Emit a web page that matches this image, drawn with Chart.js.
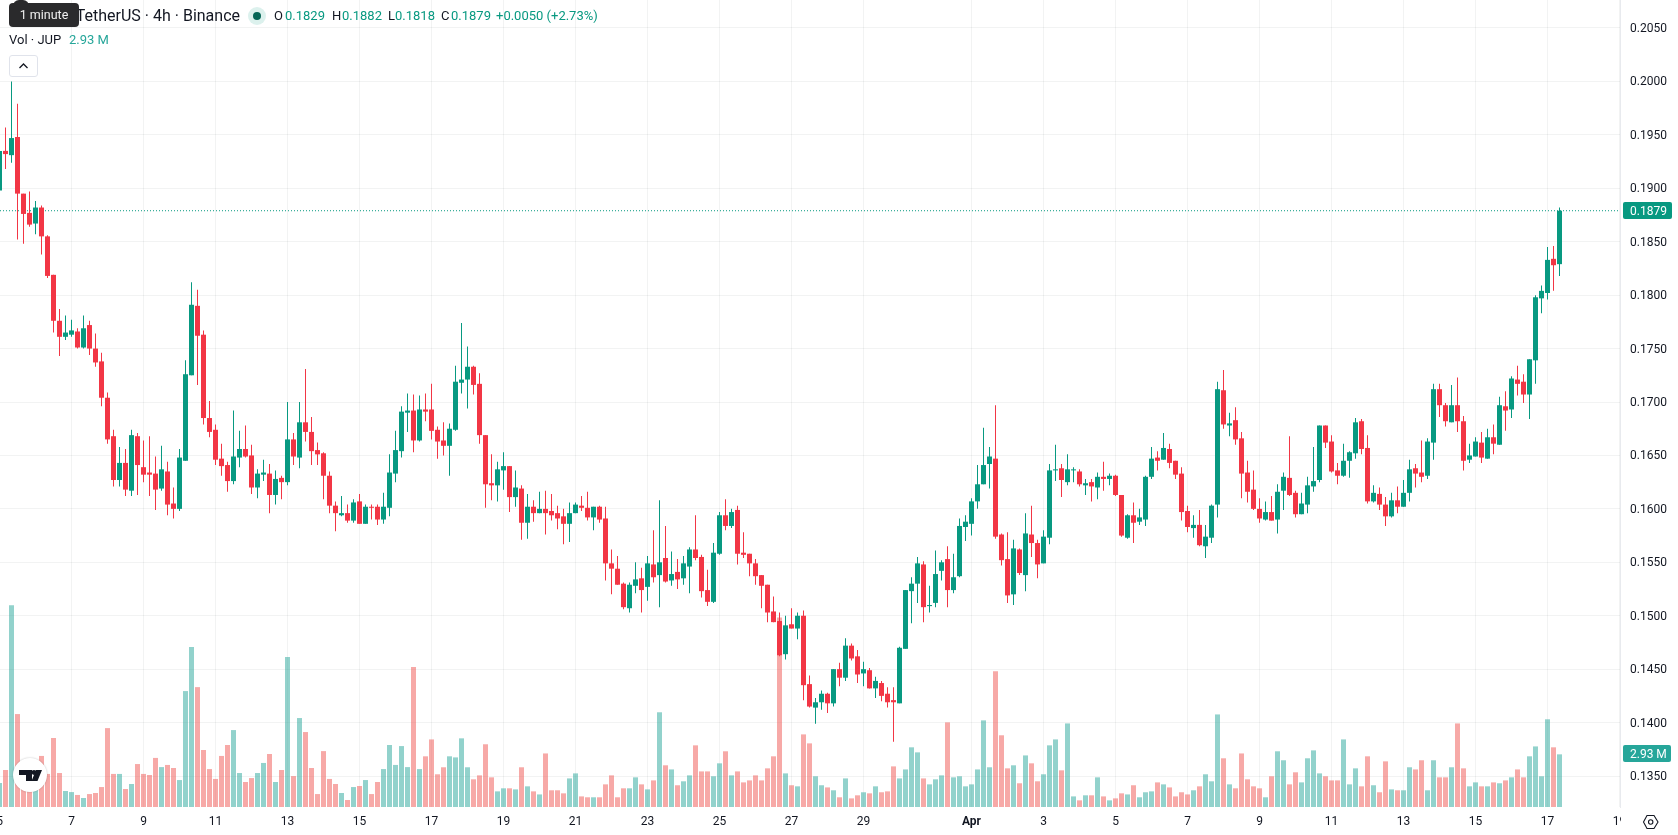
<!DOCTYPE html>
<html>
<head>
<meta charset="utf-8">
<title>JUP / USDT 4h</title>
<script src="https://cdn.jsdelivr.net/npm/chart.js@4/dist/chart.umd.min.js"></script>
<style>
  html, body { margin: 0; padding: 0; background: #fff; overflow: hidden; }
  body { width: 1678px; height: 835px; position: relative; font-family: Roboto, sans-serif; color: #131722; }
  canvas { position: absolute; left: 0; top: 0; }
  .txt { position: absolute; white-space: nowrap; line-height: 16px; font-size: 13px; }
  .up { color: #089981; }
  .vol { color: #26a69a; }
  #title { right: calc(1678px - 240px); top: 7px; font-size: 16px; line-height: 18px; }
  #status { position: absolute; left: 248px; top: 7px; width: 18px; height: 18px; border-radius: 50%; background: rgba(8,153,129,.14); }
  #status i { position: absolute; left: 5px; top: 5px; width: 8px; height: 8px; border-radius: 50%; background: #056656; }
  #tip { position: absolute; left: 9px; top: 3px; width: 70px; height: 24px; background: #2a2a2c; border-radius: 4px; color: #f0f0f0; font-size: 12.5px; line-height: 24px; text-align: center; }
  #tip:before { content: ""; position: absolute; left: 4px; top: -3px; width: 16px; height: 6px; border-radius: 6px 6px 0 0; background: #2a2a2c; }
  #fold { position: absolute; left: 9px; top: 55px; width: 27px; height: 20px; border: 1px solid #e0e3eb; border-radius: 3px; background: #fff; }
  #logo { position: absolute; left: 13px; top: 758px; width: 34px; height: 34px; border-radius: 50%; background: #fff; box-shadow: 0 0 2px rgba(0,0,0,.25); }
  #gear { position: absolute; left: 1642px; top: 813px; }
</style>
</head>
<body>
<canvas id="chart" width="1678" height="835"></canvas>

<div class="txt" id="title">TetherUS · 4h · Binance</div>
<div id="status"><i></i></div>
<div class="txt" style="left:274px;top:8px">O</div><div class="txt up" style="left:285px;top:8px">0.1829</div>
<div class="txt" style="left:332px;top:8px">H</div><div class="txt up" style="left:342px;top:8px">0.1882</div>
<div class="txt" style="left:388px;top:8px">L</div><div class="txt up" style="left:395px;top:8px">0.1818</div>
<div class="txt" style="left:441px;top:8px">C</div><div class="txt up" style="left:451px;top:8px">0.1879</div>
<div class="txt up" style="left:496px;top:8px">+0.0050 (+2.73%)</div>
<div class="txt" style="left:9px;top:32px">Vol · JUP</div>
<div class="txt vol" style="left:69px;top:32px">2.93 M</div>
<div id="tip">1 minute</div>
<div id="fold">
  <svg width="27" height="20"><path d="M9.5 12 L13.5 8 L17.5 12" fill="none" stroke="#131722" stroke-width="1.3"/></svg>
</div>
<div id="logo">
  <svg width="34" height="34" style="position:absolute;left:0;top:0">
    <path d="M6 12 H19 V23 H13 V17 H6 Z M29 12 L24.5 23 H18.5 L23 12 Z" fill="#131722"/>
    <circle cx="21" cy="14.5" r="2.4" fill="#131722"/>
  </svg>
</div>
<svg id="gear" width="18" height="18">
  <path d="M5 2.5 H12 L16 9 L12 15.5 H5 L1.5 9 Z" fill="none" stroke="#131722" stroke-width="1.1"/>
  <circle cx="8.7" cy="9" r="2.2" fill="none" stroke="#131722" stroke-width="1.1"/>
</svg>

<script>
// 4h candles, oldest first
const opens = [
  .1898,.1935,.1931,.1948,.1895,.1877,.1867,.1882,.1855,.1819,
  .1776,.1761,.1763,.1766,.1751,.1772,.1750,.1738,.1704,.1668,
  .1627,.1643,.1617,.1668,.1639,.1634,.1633,.1619,.1635,.1605,
  .1600,.1645,.1725,.1790,.1763,.1685,.1674,.1647,.1641,.1626,
  .1648,.1656,.1650,.1620,.1632,.1633,.1613,.1629,.1625,.1665,
  .1648,.1681,.1672,.1655,.1652,.1631,.1603,.1594,.1596,.1589,
  .1607,.1586,.1602,.1602,.1590,.1601,.1633,.1654,.1690,.1692,
  .1664,.1693,.1693,.1674,.1664,.1659,.1674,.1718,.1721,.1733,
  .1717,.1669,.1624,.1622,.1636,.1640,.1611,.1619,.1587,.1602,
  .1596,.1600,.1598,.1596,.1593,.1586,.1596,.1603,.1601,.1592,
  .1602,.1591,.1549,.1544,.1530,.1507,.1528,.1535,.1527,.1548,
  .1538,.1554,.1533,.1541,.1535,.1546,.1562,.1555,.1524,.1513,
  .1558,.1594,.1584,.1599,.1559,.1558,.1549,.1538,.1529,.1504,
  .1495,.1464,.1492,.1488,.1500,.1436,.1414,.1419,.1427,.1418,
  .1450,.1442,.1472,.1462,.1446,.1449,.1432,.1437,.1427,.1421,
  .1418,.1469,.1523,.1530,.1548,.1509,.1512,.1542,.1553,.1524,
  .1537,.1583,.1586,.1607,.1623,.1642,.1647,.1576,.1553,.1520,
  .1562,.1538,.1576,.1568,.1549,.1573,.1636,.1638,.1625,.1636,
  .1635,.1622,.1625,.1620,.1630,.1628,.1631,.1613,.1573,.1594,
  .1588,.1590,.1630,.1648,.1646,.1656,.1645,.1633,.1598,.1582,
  .1585,.1565,.1573,.1604,.1711,.1678,.1683,.1666,.1634,.1618,
  .1600,.1590,.1597,.1590,.1617,.1629,.1615,.1595,.1604,.1621,
  .1627,.1678,.1663,.1636,.1631,.1645,.1652,.1682,.1657,.1607,
  .1614,.1604,.1593,.1608,.1602,.1615,.1638,.1634,.1631,.1662,
  .1712,.1697,.1681,.1697,.1682,.1646,.1649,.1662,.1647,.1667,
  .1660,.1696,.1693,.1721,.1719,.1707,.1739,.1797,.1802,.1834,.1829
];
const highs = [
  .1940,.1957,.2000,.1979,.1895,.1897,.1888,.1884,.1856,.1819,
  .1787,.1781,.1777,.1769,.1781,.1776,.1764,.1746,.1709,.1674,
  .1658,.1656,.1674,.1671,.1664,.1668,.1649,.1659,.1644,.1620,
  .1656,.1739,.1812,.1805,.1767,.1701,.1679,.1661,.1644,.1692,
  .1673,.1678,.1660,.1637,.1646,.1642,.1636,.1631,.1700,.1671,
  .1700,.1731,.1686,.1662,.1653,.1635,.1607,.1612,.1604,.1609,
  .1614,.1604,.1604,.1604,.1615,.1651,.1673,.1696,.1708,.1707,
  .1706,.1708,.1717,.1677,.1681,.1680,.1734,.1774,.1752,.1734,
  .1727,.1669,.1651,.1644,.1653,.1640,.1636,.1622,.1614,.1608,
  .1616,.1617,.1614,.1603,.1600,.1606,.1606,.1612,.1616,.1602,
  .1603,.1602,.1562,.1556,.1531,.1531,.1550,.1545,.1556,.1580,
  .1608,.1584,.1560,.1553,.1556,.1564,.1594,.1557,.1543,.1568,
  .1597,.1609,.1600,.1603,.1578,.1558,.1553,.1538,.1529,.1518,
  .1503,.1500,.1507,.1503,.1505,.1444,.1423,.1430,.1428,.1450,
  .1456,.1479,.1474,.1468,.1457,.1451,.1443,.1439,.1433,.1433,
  .1471,.1524,.1536,.1555,.1551,.1528,.1561,.1552,.1565,.1558,
  .1591,.1594,.1610,.1641,.1676,.1658,.1697,.1577,.1578,.1571,
  .1563,.1596,.1603,.1571,.1580,.1642,.1660,.1642,.1651,.1639,
  .1637,.1628,.1628,.1634,.1644,.1633,.1632,.1613,.1595,.1606,
  .1600,.1631,.1658,.1654,.1671,.1661,.1645,.1639,.1603,.1594,
  .1599,.1585,.1604,.1719,.1730,.1690,.1695,.1672,.1645,.1636,
  .1610,.1607,.1612,.1623,.1634,.1668,.1617,.1615,.1630,.1658,
  .1678,.1678,.1669,.1643,.1661,.1654,.1685,.1684,.1669,.1622,
  .1620,.1611,.1615,.1621,.1627,.1646,.1642,.1664,.1666,.1717,
  .1717,.1699,.1716,.1723,.1687,.1661,.1667,.1672,.1675,.1679,
  .1705,.1710,.1724,.1734,.1726,.1740,.1800,.1809,.1845,.1846,.1882
];
const lows = [
  .1890,.1918,.1924,.1852,.1848,.1864,.1857,.1838,.1816,.1765,
  .1743,.1758,.1761,.1750,.1750,.1744,.1733,.1696,.1661,.1621,
  .1621,.1612,.1612,.1613,.1625,.1612,.1599,.1617,.1594,.1591,
  .1598,.1645,.1725,.1716,.1679,.1667,.1641,.1631,.1616,.1623,
  .1639,.1648,.1614,.1610,.1626,.1596,.1604,.1609,.1622,.1641,
  .1638,.1663,.1641,.1641,.1609,.1596,.1579,.1593,.1587,.1587,
  .1586,.1586,.1590,.1585,.1586,.1593,.1625,.1648,.1672,.1653,
  .1663,.1682,.1665,.1647,.1650,.1631,.1673,.1708,.1694,.1707,
  .1661,.1601,.1608,.1607,.1618,.1597,.1602,.1571,.1572,.1588,
  .1596,.1576,.1589,.1581,.1567,.1569,.1596,.1598,.1589,.1580,
  .1587,.1533,.1520,.1529,.1506,.1503,.1521,.1503,.1514,.1531,
  .1508,.1531,.1528,.1525,.1529,.1521,.1552,.1517,.1509,.1512,
  .1557,.1580,.1582,.1548,.1554,.1537,.1529,.1507,.1494,.1494,
  .1462,.1459,.1488,.1478,.1421,.1414,.1399,.1412,.1409,.1415,
  .1434,.1439,.1458,.1437,.1434,.1432,.1423,.1420,.1414,.1382,
  .1418,.1469,.1493,.1512,.1494,.1503,.1508,.1533,.1508,.1521,
  .1536,.1570,.1575,.1600,.1623,.1619,.1572,.1547,.1512,.1510,
  .1538,.1523,.1555,.1535,.1549,.1567,.1626,.1611,.1622,.1625,
  .1621,.1613,.1607,.1609,.1617,.1622,.1612,.1574,.1572,.1568,
  .1585,.1584,.1628,.1636,.1646,.1638,.1628,.1589,.1578,.1573,
  .1565,.1554,.1568,.1592,.1675,.1668,.1660,.1610,.1606,.1599,
  .1587,.1589,.1589,.1577,.1599,.1612,.1592,.1595,.1596,.1616,
  .1625,.1657,.1634,.1623,.1630,.1629,.1647,.1651,.1605,.1606,
  .1599,.1584,.1592,.1596,.1602,.1607,.1620,.1625,.1628,.1646,
  .1686,.1677,.1681,.1672,.1636,.1643,.1649,.1643,.1647,.1651,
  .1660,.1673,.1685,.1706,.1699,.1684,.1717,.1783,.1796,.1804,.1818
];
const closes = [
  .1935,.1932,.1947,.1895,.1876,.1866,.1882,.1855,.1818,.1776,
  .1761,.1765,.1767,.1751,.1769,.1750,.1737,.1704,.1665,.1627,
  .1643,.1618,.1669,.1641,.1632,.1632,.1618,.1637,.1604,.1600,
  .1648,.1726,.1791,.1762,.1685,.1672,.1646,.1640,.1626,.1649,
  .1656,.1649,.1620,.1633,.1634,.1613,.1628,.1625,.1665,.1649,
  .1681,.1672,.1654,.1651,.1631,.1603,.1596,.1596,.1589,.1606,
  .1586,.1602,.1601,.1590,.1602,.1634,.1655,.1691,.1692,.1664,
  .1693,.1691,.1673,.1663,.1659,.1675,.1719,.1721,.1733,.1716,
  .1669,.1623,.1622,.1637,.1640,.1611,.1620,.1587,.1602,.1596,
  .1600,.1596,.1594,.1591,.1586,.1596,.1604,.1601,.1592,.1602,
  .1590,.1549,.1544,.1529,.1508,.1529,.1534,.1524,.1549,.1536,
  .1550,.1532,.1539,.1534,.1549,.1562,.1554,.1523,.1513,.1559,
  .1594,.1584,.1597,.1558,.1557,.1549,.1537,.1528,.1503,.1494,
  .1463,.1491,.1488,.1500,.1435,.1415,.1419,.1427,.1418,.1450,
  .1442,.1472,.1460,.1445,.1450,.1432,.1439,.1425,.1419,.1419,
  .1470,.1524,.1530,.1549,.1508,.1510,.1539,.1550,.1524,.1536,
  .1584,.1588,.1607,.1623,.1641,.1649,.1574,.1552,.1519,.1563,
  .1540,.1577,.1568,.1548,.1574,.1636,.1637,.1627,.1637,.1637,
  .1623,.1624,.1621,.1630,.1628,.1631,.1613,.1575,.1594,.1587,
  .1592,.1630,.1647,.1645,.1657,.1643,.1632,.1597,.1583,.1585,
  .1566,.1574,.1603,.1712,.1679,.1680,.1665,.1633,.1616,.1600,
  .1591,.1597,.1589,.1616,.1630,.1613,.1595,.1605,.1622,.1626,
  .1678,.1662,.1635,.1631,.1645,.1653,.1681,.1656,.1607,.1615,
  .1604,.1593,.1608,.1602,.1615,.1637,.1633,.1630,.1663,.1712,
  .1697,.1682,.1697,.1682,.1645,.1650,.1663,.1648,.1667,.1661,
  .1697,.1692,.1722,.1717,.1707,.1740,.1798,.1804,.1833,.1828,.1879
];
// volume per candle, millions of JUP
const volumes = [
  1.33,2.06,11.23,5.17,1.69,1.50,1.13,2.84,1.84,3.84,
  1.89,0.89,0.83,0.67,0.50,0.72,0.78,1.11,4.39,1.84,
  1.84,1.00,1.28,2.39,1.84,1.78,2.73,2.22,2.34,2.17,
  1.50,6.45,8.90,6.67,3.17,2.11,1.56,2.84,3.45,4.28,
  1.89,1.39,1.61,1.89,2.45,2.95,1.39,2.06,8.34,1.72,
  4.95,4.17,2.17,0.72,3.11,1.56,1.28,0.78,0.39,1.11,
  1.17,1.50,0.72,1.39,2.11,3.45,2.34,3.39,2.22,7.79,2.11,
  2.82,3.76,1.82,2.21,2.82,2.76,3.82,2.21,1.54,1.76,
  3.49,1.65,0.87,1.04,1.04,0.98,2.21,1.15,0.87,0.70,
  2.98,0.93,0.93,0.76,1.59,1.87,0.59,0.54,0.54,0.54,
  1.26,1.76,0.54,1.04,1.04,1.65,1.26,0.98,1.48,5.27,
  2.32,2.09,1.21,1.43,1.76,3.43,1.98,1.98,1.71,2.43,
  3.10,1.76,1.98,1.37,1.48,1.76,1.48,2.15,2.82,10.55,
  1.87,1.21,1.15,4.04,3.54,1.71,1.21,1.09,0.93,0.54,
  1.59,0.48,0.65,0.82,0.76,1.15,0.82,0.87,2.26,1.59,
  2.09,3.32,3.04,1.59,1.26,1.54,1.76,4.71,1.65,1.71,
  1.15,1.26,2.09,4.82,2.21,7.55,3.99,2.15,2.32,1.32,
  2.87,2.43,1.43,1.82,3.43,3.76,2.04,4.65,0.59,0.37,
  0.65,0.65,1.65,0.59,0.37,0.48,0.76,0.70,1.21,0.54,
  0.82,0.87,1.37,1.26,1.09,0.59,0.82,0.70,0.93,1.15,
  1.82,1.43,5.15,2.71,1.26,1.04,2.98,1.54,1.15,1.04,
  0.54,1.71,3.10,2.60,1.26,1.93,1.37,2.71,3.15,1.87,
  1.71,1.48,1.48,3.76,1.26,2.15,1.15,2.82,1.21,0.82,
  2.54,0.98,0.93,0.93,2.21,2.09,2.60,0.93,2.60,1.65,
  1.65,2.21,4.65,2.15,1.15,1.37,1.15,1.15,1.37,1.32,
  1.48,1.65,2.09,1.65,2.82,3.37,1.71,4.88,3.32,2.93
];

// axis ticks: candle index -> date label
const dateTicks = [0,12,24,36,48,60,72,84,96,108,120,132,144,162,174,186,198,210,222,234,246,258,270];
const dateLabels = ['5','7','9','11','13','15','17','19','21','23','25','27','29','Apr','3','5','7','9','11','13','15','17','19'];
const priceTicks = [0.135,0.14,0.145,0.15,0.155,0.16,0.165,0.17,0.175,0.18,0.185,0.19,0.195,0.2,0.205];

const UP = '#089981', DOWN = '#f23645';
const VOL_UP = 'rgba(38,166,154,.5)', VOL_DOWN = 'rgba(239,83,80,.5)';
const GRID = 'rgba(42,46,57,.06)';
const FONT = 'Roboto, sans-serif';

const last = closes.length - 1;
const candleColor = closes.map((c, i) => c >= opens[i] ? UP : DOWN);
const volColor = closes.map((c, i) => c >= opens[i] ? VOL_UP : VOL_DOWN);

// 6px per candle in a 1620px wide pane
const xMin = 1 / 12, xMax = xMin + 270;

const lastValueTags = {
  id: 'lastValueTags',
  afterDraw(chart) {
    const { ctx, scales } = chart;
    // the time axis stops at the price axis
    ctx.save();
    ctx.fillStyle = '#fff';
    ctx.fillRect(1621, 808, 20, 27);
    ctx.font = '12px ' + FONT;
    ctx.textBaseline = 'middle';
    const tag = (y, color, text, w) => {
      ctx.fillStyle = color;
      ctx.beginPath();
      ctx.roundRect(1623, Math.round(y) - 9, w, 17, 2);
      ctx.fill();
      ctx.fillStyle = '#fff';
      ctx.fillText(text, 1630, Math.round(y) + 1);
    };
    tag(scales.yVol.getPixelForValue(volumes[last]), '#26a69a', volumes[last].toFixed(2) + ' M', 48);
    tag(scales.y.getPixelForValue(closes[last]), UP, closes[last].toFixed(4), 49);
    ctx.restore();
  }
};

new Chart(document.getElementById('chart'), {
  type: 'bar',
  data: {
    datasets: [
      {
        label: 'body',
        data: opens.map((o, i) => ({ x: i, y: [o, closes[i]] })),
        backgroundColor: candleColor,
        barThickness: 5,
        inflateAmount: 0,
        order: 1
      },
      {
        label: 'wick',
        data: lows.map((l, i) => ({ x: i, y: [l, highs[i]] })),
        backgroundColor: candleColor,
        barThickness: 1,
        inflateAmount: 0,
        order: 2
      },
      {
        label: 'last',
        type: 'line',
        data: [{ x: xMin, y: closes[last] }, { x: xMax, y: closes[last] }],
        borderColor: UP,
        borderWidth: 1,
        borderDash: [1, 2],
        pointRadius: 0,
        order: 3
      },
      {
        label: 'volume',
        data: volumes.map((v, i) => ({ x: i, y: v })),
        backgroundColor: volColor,
        barThickness: 5,
        inflateAmount: 0,
        yAxisID: 'yVol',
        order: 4
      }
    ]
  },
  options: {
    responsive: false,
    animation: false,
    grouped: false,
    minBarLength: 1,
    layout: { padding: 0 },
    plugins: { legend: { display: false }, tooltip: { enabled: false } },
    scales: {
      x: {
        type: 'linear',
        offset: false,
        min: xMin,
        max: xMax,
        afterBuildTicks(scale) { scale.ticks = dateTicks.map(value => ({ value })); },
        afterFit(scale) {
          scale.paddingLeft = 0; scale.paddingRight = 0; scale.height = 28;
          scale._margins.left = 0;
        },
        grid: { color: GRID, drawTicks: false, offset: false },
        border: { display: false },
        ticks: {
          autoSkip: false,
          maxRotation: 0,
          padding: 8,
          color: '#131722',
          font: ctx => ({ family: FONT, size: 12, weight: ctx.tick && ctx.tick.value === 162 ? 'bold' : 'normal' }),
          callback: value => dateLabels[dateTicks.indexOf(value)]
        }
      },
      y: {
        position: 'right',
        min: 0.1321,
        max: 0.20762,
        afterBuildTicks(scale) { scale.ticks = priceTicks.map(value => ({ value })); },
        afterFit(scale) { scale.width = 58; scale.paddingTop = 0; scale.paddingBottom = 0; },
        grid: { color: GRID, drawTicks: false },
        border: { display: true, color: '#e8eaee' },
        ticks: {
          padding: 10,
          labelOffset: 1,
          color: '#131722',
          font: { family: FONT, size: 12 },
          callback: value => value.toFixed(4)
        }
      },
      yVol: {
        display: false,
        position: 'right',
        min: 0,
        max: 44.9,
        afterFit(scale) { scale.width = 0; }
      }
    }
  },
  plugins: [lastValueTags]
});
</script>
</body>
</html>
